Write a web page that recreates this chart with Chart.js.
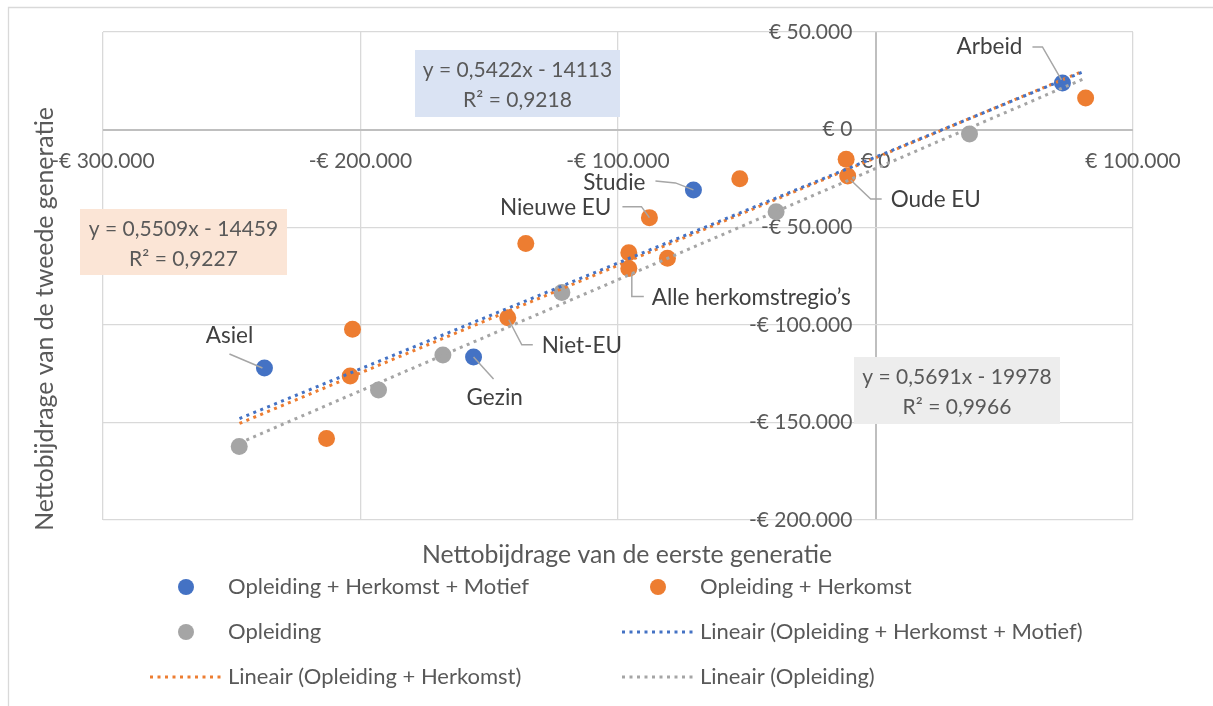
<!DOCTYPE html>
<html>
<head>
<meta charset="utf-8">
<script src="https://cdn.jsdelivr.net/npm/chart.js@4"></script>
<style>
  body { margin: 0; background: #fff; }
  #wrap { width: 1213px; height: 706px; }
</style>
</head>
<body>
<div id="wrap"><canvas id="myChart" width="1213" height="706"></canvas></div>
<script>
// Opleiding + Herkomst + Motief
const motiefX = [72600, -70700, -237300, -156100];
const motiefY = [23900, -30900, -122100, -116500];
const motiefNames = ['Arbeid', 'Studie', 'Asiel', 'Gezin'];

// Opleiding + Herkomst
const herkomstX = [81600, -11400, -10800, -52700, -87800, -135800, -95800, -95800, -80800, -142800, -203100, -204000, -213200];
const herkomstY = [16200, -15200, -23800, -25200, -45100, -58300, -63100, -71100, -65900, -96400, -102300, -126200, -158300];
const herkomstNames = ['', '', 'Oude EU', '', 'Nieuwe EU', '', '', 'Alle herkomstregio’s', '', 'Niet-EU', '', '', ''];

// Opleiding
const opleidingX = [36500, -38600, -121800, -168000, -193000, -247100];
const opleidingY = [-2300, -42100, -83400, -115500, -133400, -162400];

// trendlines as given in the chart (y = a*x + b)
const trendLabels = ['Lineair (Opleiding + Herkomst + Motief)', 'Lineair (Opleiding + Herkomst)', 'Lineair (Opleiding)'];
const trendSlopes = [0.5422, 0.5509, 0.5691];
const trendIntercepts = [-14113, -14459, -19978];
const trendR2 = ['0,9218', '0,9227', '0,9966'];
const trendRange = [-247000, 80500];

const xTicks = [-300000, -200000, -100000, 0, 100000];
const yTicks = [-200000, -150000, -100000, -50000, 0, 50000];

const colors = ['#4472c4', '#ed7d31', '#a5a5a5'];
const FONT = 'Lato, Carlito, Calibri, sans-serif';

function euro(v) {
    const s = String(Math.abs(v)).replace(/\B(?=(\d{3})+(?!\d))/g, '.');
    return (v < 0 ? '-' : '') + '€ ' + s;
}

function pts(xs, ys) {
    return xs.map((x, i) => ({ x: x, y: ys[i] }));
}

function trend(i) {
    return trendRange.map(x => ({ x: x, y: trendSlopes[i] * x + trendIntercepts[i] }));
}

// label placement relative to the point (pixels)
const labelStyle = {
    'Arbeid': { dx: -40, dy: -36, align: 'right', leader: [[-30, -36], [-20, -36], [-1, -3]] },
    'Studie': { dx: -48, dy: -7, align: 'right', leader: [[-38, -9], [-18, -7], [0, 0]] },
    'Nieuwe EU': { dx: -38, dy: -10, align: 'right', leader: [[-27, -11], [-8, -11], [0, 0]] },
    'Oude EU': { dx: 43, dy: 24, align: 'left', leader: [[3, 4], [23, 23], [34, 23]] },
    'Alle herkomstregio’s': { dx: 23, dy: 29, align: 'left', leader: [[3, 5], [3, 28], [15, 28]] },
    'Niet-EU': { dx: 34, dy: 28, align: 'left', leader: [[1, 2], [14, 27], [25, 27]] },
    'Gezin': { dx: -7, dy: 41, align: 'left', leader: [[0, 0], [20, 22]] },
    'Asiel': { dx: -35, dy: -32, align: 'center', leader: [[-35, -14], [-2, 0]] }
};

const eqBoxes = [
    { x: 415, y: 50, w: 205, h: 67, fill: '#dae3f3' },
    { x: 80, y: 209, w: 207, h: 66, fill: '#fbe5d6' },
    { x: 854, y: 357, w: 206, h: 67, fill: '#ededed' }
];

const extras = {
    id: 'extras',
    beforeDraw(chart) {
        const ctx = chart.ctx;
        ctx.save();
        ctx.strokeStyle = '#d9d9d9';
        ctx.lineWidth = 1.3;
        ctx.beginPath();
        ctx.moveTo(8.5, 706);
        ctx.lineTo(8.5, 7.5);
        ctx.lineTo(1213, 7.5);
        ctx.stroke();
        ctx.restore();
    },
    afterDatasetsDraw(chart) {
        const ctx = chart.ctx;
        ctx.save();
        ctx.textBaseline = 'middle';

        // data labels with leader lines
        ctx.font = '22.5px ' + FONT;
        [[0, motiefNames], [1, herkomstNames]].forEach(([di, names]) => {
            const meta = chart.getDatasetMeta(di);
            names.forEach((name, j) => {
                const st = labelStyle[name];
                if (!st) return;
                const p = meta.data[j];
                ctx.strokeStyle = '#a6a6a6';
                ctx.lineWidth = 1.5;
                ctx.beginPath();
                st.leader.forEach((l, k) => {
                    if (k === 0) ctx.moveTo(p.x + l[0], p.y + l[1]);
                    else ctx.lineTo(p.x + l[0], p.y + l[1]);
                });
                ctx.stroke();
                ctx.fillStyle = '#404040';
                ctx.textAlign = st.align;
                ctx.fillText(name, p.x + st.dx, p.y + st.dy);
            });
        });

        // trendline equations
        ctx.font = '21px ' + FONT;
        eqBoxes.forEach((b, i) => {
            ctx.fillStyle = b.fill;
            ctx.fillRect(b.x, b.y, b.w, b.h);
            ctx.fillStyle = '#595959';
            ctx.textAlign = 'center';
            const a = String(trendSlopes[i]).replace('.', ',');
            const c = Math.abs(trendIntercepts[i]);
            ctx.fillText('y = ' + a + 'x - ' + c, b.x + b.w / 2, b.y + 20);
            ctx.fillText('R² = ' + trendR2[i], b.x + b.w / 2, b.y + 50);
        });
        ctx.restore();
    },
    afterDraw(chart) {
        const ctx = chart.ctx;
        ctx.save();
        ctx.fillStyle = '#595959';
        ctx.textBaseline = 'middle';
        ctx.textAlign = 'center';
        ctx.font = '24.8px ' + FONT;
        ctx.fillText('Nettobijdrage van de eerste generatie', 627, 555);
        ctx.save();
        ctx.translate(45, 319);
        ctx.rotate(-Math.PI / 2);
        ctx.fillText('Nettobijdrage van de tweede generatie', 0, 0);
        ctx.restore();

        // legend, two columns
        ctx.font = '22px ' + FONT;
        ctx.textAlign = 'left';
        chart.data.datasets.forEach((ds, i) => {
            const tx = i % 2 === 0 ? 228 : 700;
            const ty = 587 + Math.floor(i / 2) * 45;
            if (ds.showLine) {
                ctx.strokeStyle = ds.borderColor;
                ctx.lineWidth = 3;
                ctx.setLineDash([3, 4.5]);
                ctx.beginPath();
                ctx.moveTo(tx - 78, ty);
                ctx.lineTo(tx - 6, ty);
                ctx.stroke();
                ctx.setLineDash([]);
            } else {
                ctx.fillStyle = ds.backgroundColor;
                ctx.beginPath();
                ctx.arc(tx - 42, ty, 8, 0, Math.PI * 2);
                ctx.fill();
            }
            ctx.fillStyle = '#595959';
            ctx.fillText(ds.label, tx, ty);
        });
        ctx.restore();
    }
};

const pointDs = (label, data, i) => ({
    label: label,
    data: data,
    backgroundColor: colors[i],
    borderColor: colors[i],
    pointRadius: 8.5,
    pointBorderWidth: 0,
    showLine: false,
    order: 2
});

const lineDs = (i) => ({
    label: trendLabels[i],
    data: trend(i),
    borderColor: colors[i],
    backgroundColor: colors[i],
    borderWidth: 3,
    borderDash: [3, 4.5],
    pointRadius: 0,
    showLine: true,
    fill: false,
    order: 1
});

const ctx = document.getElementById('myChart').getContext('2d');
const myChart = new Chart(ctx, {
    type: 'scatter',
    data: {
        datasets: [
            pointDs('Opleiding + Herkomst + Motief', pts(motiefX, motiefY), 0),
            pointDs('Opleiding + Herkomst', pts(herkomstX, herkomstY), 1),
            pointDs('Opleiding', pts(opleidingX, opleidingY), 2),
            lineDs(0),
            lineDs(1),
            lineDs(2)
        ]
    },
    options: {
        responsive: false,
        animation: false,
        events: [],
        layout: { padding: { left: 103, right: 80, top: 32, bottom: 186 } },
        plugins: {
            legend: { display: false },
            tooltip: { enabled: false }
        },
        scales: {
            x: {
                type: 'linear',
                position: { y: 0 },
                min: xTicks[0],
                max: xTicks[xTicks.length - 1],
                afterBuildTicks: s => { s.ticks = xTicks.map(v => ({ value: v })); },
                ticks: {
                    callback: v => euro(v),
                    color: '#595959',
                    font: { family: FONT, size: 21 },
                    padding: 19,
                    maxRotation: 0,
                    autoSkip: false
                },
                grid: {
                    color: c => (c.tick && c.tick.value === 0) ? '#bfbfbf' : '#d9d9d9',
                    lineWidth: c => (c.tick && c.tick.value === 0) ? 2 : 1.3,
                    drawTicks: false
                },
                border: { display: false }
            },
            y: {
                type: 'linear',
                position: { x: -9000 },
                min: yTicks[0],
                max: yTicks[yTicks.length - 1],
                afterBuildTicks: s => { s.ticks = yTicks.map(v => ({ value: v })); },
                ticks: {
                    callback: v => euro(v),
                    color: '#595959',
                    font: { family: FONT, size: 21 },
                    autoSkip: false
                },
                grid: {
                    color: c => (c.tick && c.tick.value === 0) ? '#bfbfbf' : '#d9d9d9',
                    lineWidth: c => (c.tick && c.tick.value === 0) ? 2 : 1.3,
                    drawTicks: false
                },
                border: { display: false }
            }
        }
    },
    plugins: [extras]
});
</script>
</body>
</html>
